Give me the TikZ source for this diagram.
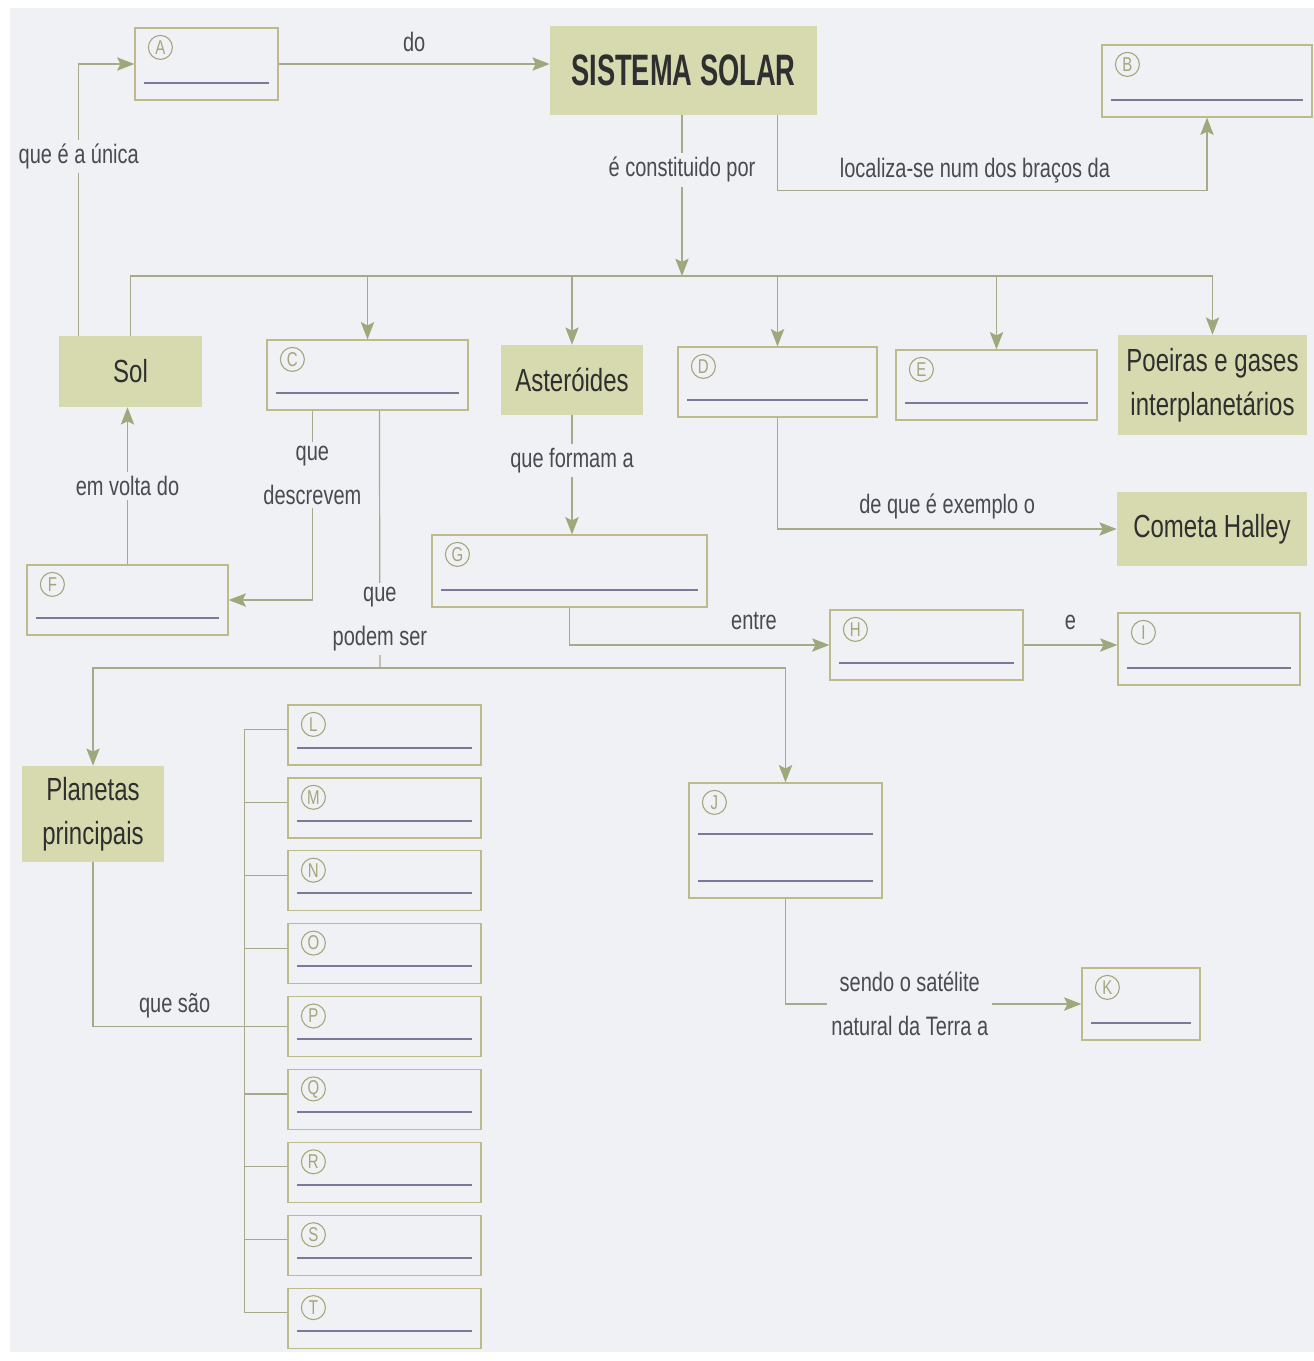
\documentclass[tikz,border=0pt]{standalone}
\usepackage{fontspec}
\setmainfont{Liberation Sans}[FakeStretch=0.75]
\newfontfamily\titlefont{Liberation Sans}[FakeStretch=0.62]
\usepackage{tikz}
\usepackage{xcolor}
\usetikzlibrary{arrows.meta,fit}

\definecolor{paper}{HTML}{EFF1F4}
\definecolor{concfill}{HTML}{D6DAAE}
\definecolor{boxedge}{HTML}{BDBB8C}
\definecolor{wirecol}{HTML}{A8A98A}
\definecolor{tipcol}{HTML}{9DA97C}
\definecolor{ink}{HTML}{2F2F2F}
\definecolor{labelink}{HTML}{4A4A52}
\definecolor{rulecol}{HTML}{7E7798}
\definecolor{tagcol}{HTML}{A5A47A}

\tikzset{
  concept/.style={fill=concfill, inner sep=0pt, text=ink, align=center, font=\fontsize{24}{33}\selectfont},
  boxsize/.style 2 args={minimum width=#1*0.75pt, minimum height=#2*0.75pt},
  blank/.style={draw=boxedge, line width=0.9pt, inner sep=0pt},
  tag/.style={circle, draw=tagcol, line width=0.8pt, text=tagcol, inner sep=0pt, minimum size=18pt, font=\fontsize{15}{15}\selectfont},
  answer/.style={draw=rulecol, line width=1.5pt},
  wire/.style={draw=wirecol, line width=0.9pt},
  arr/.style={wire, -{Stealth[length=13pt,width=10pt,inset=2.5pt,color=tipcol]}},
  lbl/.style={fill=paper, inner sep=3pt, text=labelink, align=center, font=\fontsize{20}{33}\selectfont},
}

% box with circled letter and answer line
\newcommand{\answerbox}[4]{%
  \node[blank, fit={#3 #4}] (#1) {};
  \node[tag] (#1-tag) at ([shift={(26,20)}]#1.north west) {#2};
  \draw[answer] ([shift={(10,-18)}]#1.south west) -- ([shift={(-10,-18)}]#1.south east);
}

\begin{document}
\begin{tikzpicture}[x=0.75pt,y=0.75pt,yscale=-1,xscale=1]
    \useasboundingbox (0,0) rectangle (1314,1361);
    \fill[white] (0,0) rectangle (1314,1361);
    \fill[paper] (10,8) rectangle (1314,1352);

    % Concepts
    \node[concept, boxsize={267}{89}, font=\titlefont\bfseries\fontsize{33}{33}\selectfont] (solar) at (683.5,70.5) {SISTEMA SOLAR};
    \node[concept, boxsize={143}{71}] (sol) at (130.5,371.5) {Sol};
    \node[concept, boxsize={142}{70}] (aster) at (572,380) {Asteróides};
    \node[concept, boxsize={189}{100}] (poeiras) at (1212.5,385) {Poeiras e gases\\interplanetários};
    \node[concept, boxsize={190}{74}] (cometa) at (1212,529) {Cometa Halley};
    \node[concept, boxsize={142}{96}] (planetas) at (93,814) {Planetas\\principais};

    % Answer boxes
    \answerbox{A}{A}{(135,28)}{(278,100)}
    \answerbox{B}{B}{(1102,45)}{(1312,117)}
    \answerbox{C}{C}{(267,340)}{(468,410)}
    \answerbox{D}{D}{(678,347)}{(877,417)}
    \answerbox{E}{E}{(896,350)}{(1097,420)}
    \answerbox{F}{F}{(27,565)}{(228,635)}
    \answerbox{G}{G}{(432,535)}{(707,607)}
    \answerbox{H}{H}{(830,610)}{(1023,680)}
    \answerbox{I}{I}{(1118,613)}{(1300,685)}
    \answerbox{J}{J}{(689,783)}{(882,898)}
    \draw[answer] ([shift={(10,-65)}]J.south west) -- ([shift={(-10,-65)}]J.south east);
    \answerbox{K}{K}{(1082,968)}{(1200,1040)}
    \foreach \p [count=\i from 0] in {L,M,N,O,P,Q,R,S,T}
      {\answerbox{\p}{\p}{(288,705+72.9*\i)}{(481,765+72.9*\i)}}

    % Hubs
    \coordinate (hub) at (682,276);
    \coordinate (split) at (380,668);

    % Connectors
    \draw[arr] (A.east) -- (A.east -| solar.west) node[midway, above=6pt, lbl, fill=none] (l-do) {do};
    \draw[arr] (solar.south -| hub) -- (hub) node[lbl, pos=0.34] (l-const) {é constituido por};
    \draw[arr] ([shift={(-40,0)}]solar.south east) -- ++(0,75) -| (B.south)
      node[lbl, pos=0.23, above=2pt, fill=none] (l-loc) {localiza-se num dos braços da};
    \draw[wire] (sol.north) |- (hub) -- (poeiras.north |- hub);
    \foreach \n in {C,aster,D,E,poeiras}
      \draw[arr] (\n.north |- hub) -- (\n.north);
    \draw[arr] ([shift={(20,0)}]sol.north west) |- (A.west) node[lbl, pos=0.33] (l-unica) {que é a única};
    \draw[arr] (D.south) |- (cometa.west) node[lbl, pos=0.75, above=4pt, fill=none] (l-exemplo) {de que é exemplo o};
    \draw[arr] (F.north) -- (F.north |- sol.south) node[lbl, midway] (l-volta) {em volta do};
    \draw[arr] ([shift={(46,0)}]C.south west) |- (F.east) node[lbl, pos=0.17] (l-descr) {que\\descrevem};
    \draw[wire] ([shift={(113,0)}]C.south west) -- (split) node[lbl, pos=0.81] (l-podem) {que\\podem ser};
    \draw[arr] (split) -| (planetas.north);
    \draw[arr] (split) -| (J.north);
    \draw[arr] (aster.south) -- (aster.south |- G.north) node[lbl, pos=0.38] (l-formam) {que formam a};
    \draw[arr] (G.south) |- (H.west) node[lbl, pos=0.855, above=8pt, fill=none] (l-entre) {entre};
    \draw[arr] (H.east) -- (H.east -| I.west) node[lbl, midway, above=8pt, fill=none] (l-e) {e};
    \draw[wire] (planetas.south) |- (P.west) node[lbl, pos=0.71, above=3pt, fill=none] (l-sao) {que são};
    \draw[wire] ([shift={(-43,25)}]L.north west) -- ([shift={(-43,25)}]T.north west);
    \foreach \p in {L,M,N,O,Q,R,S,T}
      \draw[wire] ([shift={(-43,25)}]\p.north west) -- ([shift={(0,25)}]\p.north west);
    \draw[arr] (J.south) |- (K.west) node[lbl, pos=0.71] (l-sat) {sendo o satélite\\natural da Terra a};

\end{tikzpicture}
\end{document}
